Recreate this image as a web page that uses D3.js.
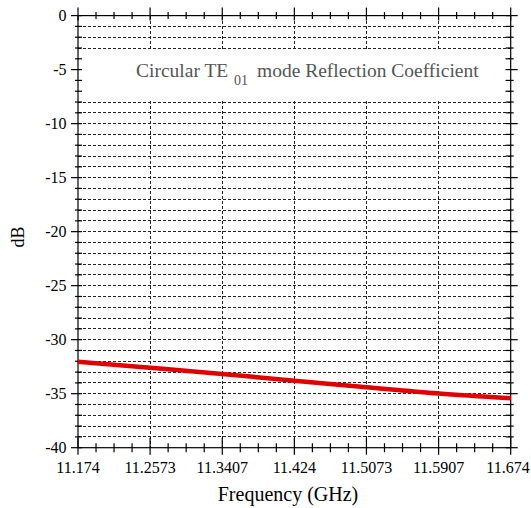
<!DOCTYPE html>
<html><head><meta charset="utf-8">
<script src="https://cdn.jsdelivr.net/npm/d3@7"></script>
<style>
html,body{margin:0;padding:0;background:#fff;}
svg{display:block;}
svg text, svg tspan{font-family:'Liberation Serif', serif !important;}
</style></head>
<body>
<script>
// Data
const freqGHz = [11.174, 11.2573, 11.3407, 11.424, 11.5073, 11.5907, 11.674];
const reflDB  = [-32.05, -32.6, -33.17, -33.8, -34.4, -34.98, -35.42];
const xTickValues = [11.174, 11.2573, 11.3407, 11.424, 11.5073, 11.5907, 11.674];
const xTickLabels = ["11.174", "11.2573", "11.3407", "11.424", "11.5073", "11.5907", "11.674"];
const yTickValues = [0, -5, -10, -15, -20, -25, -30, -35, -40];
const yTickLabels = ["0", "-5", "-10", "-15", "-20", "-25", "-30", "-35", "-40"];
const titleMain = "Circular TE";
const titleSub = "01";
const titleRest = "mode Reflection Coefficient";

const W = 531, H = 508;
const L = 78, R = 510.7, T = 15.6, B = 447.7;
const FONT = "'Liberation Serif', serif";

const svg = d3.select("body").append("svg").attr("width", W).attr("height", H);

const x = d3.scaleLinear().domain([11.174, 11.674]).range([L, R]);
const y = d3.scaleLinear().domain([-40, 0]).range([B, T]);

const xMinor = [];
for (let i = 0; i < xTickValues.length - 1; i++) {
  const a = xTickValues[i], b = xTickValues[i + 1];
  for (let k = 1; k < 4; k++) xMinor.push(a + (b - a) * k / 4);
}
const yMinor = d3.range(-40, 1, 1);

const g = svg.append("g");

g.append("g").selectAll("line").data(yMinor.filter(v => v > -40 && v < 0)).join("line")
  .attr("x1", L).attr("x2", R).attr("y1", d => y(d)).attr("y2", d => y(d))
  .attr("stroke", "#222").attr("stroke-width", 1).attr("stroke-dasharray", "3,2")
  .attr("shape-rendering", "crispEdges");
g.append("g").selectAll("line").data(xTickValues.slice(1, -1)).join("line")
  .attr("x1", d => x(d)).attr("x2", d => x(d)).attr("y1", T).attr("y2", B)
  .attr("stroke", "#222").attr("stroke-width", 1).attr("stroke-dasharray", "3,2")
  .attr("shape-rendering", "crispEdges");

g.append("rect").attr("x", L + 1).attr("y", y(-3) + 1.5)
  .attr("width", (R - 5) - (L + 1)).attr("height", y(-8) - y(-3) - 3)
  .attr("fill", "#fff");

const tt = g.append("text").attr("fill", "#555").attr("font-size", 19.5)
  .attr("font-family", FONT).style("font-family", FONT);
tt.append("tspan").attr("x", 136).attr("y", 77).text(titleMain);
tt.append("tspan").attr("x", 234).attr("y", 85).attr("font-size", 14).text(titleSub);
tt.append("tspan").attr("x", 257).attr("y", 77).text(titleRest);

g.append("rect").attr("x", L).attr("y", T).attr("width", R - L).attr("height", B - T)
  .attr("fill", "none").attr("stroke", "#000").attr("stroke-width", 1.2);

const tick = (x1, y1, x2, y2) => g.append("line").attr("x1", x1).attr("y1", y1)
  .attr("x2", x2).attr("y2", y2).attr("stroke", "#000").attr("stroke-width", 1.2);

xTickValues.forEach(v => { tick(x(v), B - 10, x(v), B + 7); tick(x(v), T - 8, x(v), T + 5); });
xMinor.forEach(v => { tick(x(v), B - 4.5, x(v), B + 4.5); tick(x(v), T - 3.5, x(v), T + 3.5); });
yMinor.forEach(v => {
  const major = v % 5 === 0;
  if (major) { tick(L - 7, y(v), L + 4, y(v)); tick(R - 5, y(v), R + 7, y(v)); }
  else { tick(L - 3, y(v), L + 4, y(v)); tick(R - 5, y(v), R + 3, y(v)); }
});

g.append("g").selectAll("text").data(xTickValues).join("text")
  .attr("x", d => Math.min(x(d), W - 1 - 22)).attr("y", 472.7)
  .attr("text-anchor", "middle").attr("font-size", 16).attr("fill", "#000")
  .attr("font-family", FONT).style("font-family", FONT)
  .text((d, i) => xTickLabels[i]);
g.append("g").selectAll("text").data(yTickValues).join("text")
  .attr("x", 66.5).attr("y", d => y(d)).attr("dy", "0.34em")
  .attr("text-anchor", "end").attr("font-size", 16).attr("fill", "#000")
  .attr("font-family", FONT).style("font-family", FONT)
  .text((d, i) => yTickLabels[i]);

g.append("text").attr("x", 288).attr("y", 500.5).attr("text-anchor", "middle")
  .attr("font-size", 20).attr("font-family", FONT).style("font-family", FONT).text("Frequency (GHz)");
g.append("text").attr("transform", "translate(24,237) rotate(-90)").attr("text-anchor", "middle")
  .attr("font-size", 18).attr("font-family", FONT).style("font-family", FONT).text("dB");

const line = d3.line().x(d => x(d[0])).y(d => y(d[1])).curve(d3.curveMonotoneX);
g.append("path").datum(freqGHz.map((f, i) => [f, reflDB[i]]))
  .attr("d", line).attr("fill", "none").attr("stroke", "#e00000").attr("stroke-width", 4.5);
</script>
</body></html>
